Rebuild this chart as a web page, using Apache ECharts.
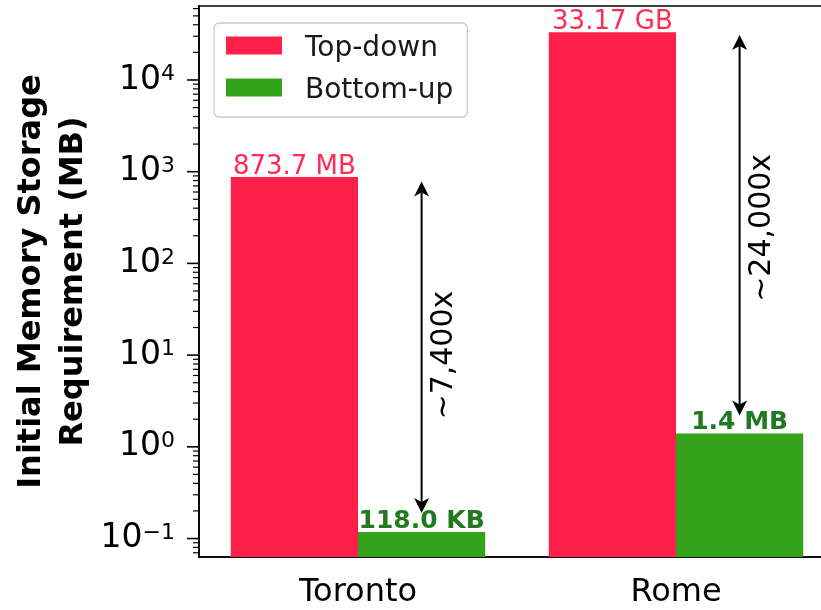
<!DOCTYPE html>
<html>
<head>
<meta charset="utf-8">
<script src="https://cdn.jsdelivr.net/npm/echarts@6/dist/echarts.min.js"></script>
<style>
  html, body { margin: 0; padding: 0; background: #ffffff; }
  #chart { width: 821px; height: 610px; }
</style>
</head>
<body>
<div id="chart"></div>
<script>
// Cities and memory needed at start-up, in MB
const cities = ['Toronto', 'Rome'];
const topDownMB = [873.7, 33170];
const bottomUpMB = [0.118, 1.4];
const topDownLabels = ['873.7 MB', '33.17 GB'];
const bottomUpLabels = ['118.0 KB', '1.4 MB'];

// Ratio arrows between the two approaches
const ratioText = ['~7,400x', '~24,000x'];
const arrowTopMB = [781, 31000];
const arrowBottomMB = [0.19, 2.2];
const ratioTextAtMB = [10, 244];

// Log axis range, decade ticks and their exponent labels
const yMin = 0.0629;
const yMax = 64050;
const majorTicks = [0.1, 1, 10, 100, 1000, 10000];
const majorExponents = ['\u22121', '0', '1', '2', '3', '4'];
const minorTicks = [];
for (let k = -2; k <= 4; k++) {
  for (let m = 2; m <= 9; m++) {
    const v = m * Math.pow(10, k);
    if (v > yMin && v < yMax) minorTicks.push(v);
  }
}

const FONT = '"DejaVu Sans", "Noto Sans", sans-serif';
const RED = '#FF1F48';
const GREEN = '#35A21B';

const chart = echarts.init(document.getElementById('chart'), null, { renderer: 'canvas' });

// [category, value, tick length, label index]
const tickData = majorTicks.map((v, i) => [0, v, 12, i]).concat(minorTicks.map(v => [0, v, 6, -1]));
const arrowData = cities.map((c, i) => [i, arrowTopMB[i], arrowBottomMB[i], ratioTextAtMB[i]]);

chart.setOption({
  animation: false,
  textStyle: { fontFamily: FONT },
  grid: {
    left: 199, top: 6, width: 636, height: 551,
    outerBoundsMode: 'none',
    containLabel: false,
    show: true, borderColor: '#000', borderWidth: 1.6, backgroundColor: 'transparent'
  },
  legend: {
    data: ['Top-down', 'Bottom-up'],
    orient: 'vertical',
    left: 214, top: 23,
    itemWidth: 56, itemHeight: 18, itemGap: 14,
    icon: 'rect',
    padding: [12, 14, 12, 12],
    backgroundColor: 'rgba(255,255,255,0.8)',
    borderColor: '#cccccc', borderWidth: 1.3, borderRadius: 5,
    selectedMode: false,
    formatter: '{t|{name}}',
    textStyle: {
      fontSize: 28, color: '#1a1a1a', fontFamily: FONT,
      rich: { t: { fontSize: 28, color: '#1a1a1a', fontFamily: FONT, padding: [7, 0, 0, 18] } }
    }
  },
  xAxis: {
    type: 'category',
    data: cities,
    axisLine: { lineStyle: { color: '#000', width: 1.6 } },
    axisTick: { alignWithLabel: true, length: 12, lineStyle: { color: '#000', width: 1.5 } },
    axisLabel: { fontSize: 32, color: '#000', margin: 20, fontFamily: FONT },
    splitLine: { show: false }
  },
  yAxis: {
    type: 'log',
    logBase: 10,
    min: yMin,
    max: yMax,
    startValue: yMin,
    name: 'Initial Memory Storage\nRequirement (MB)',
    nameLocation: 'middle',
    nameGap: 104,
    nameTextStyle: { fontSize: 32, fontWeight: 'bold', lineHeight: 42, color: '#000', fontFamily: FONT },
    axisLine: { show: true, lineStyle: { color: '#000', width: 1.6 } },
    axisTick: { show: false },
    axisLabel: { show: false },
    splitLine: { show: false }
  },
  series: [
    {
      name: 'Top-down',
      type: 'bar',
      data: topDownMB,
      barWidth: '40%',
      barGap: '0%',
      itemStyle: { color: RED },
      label: {
        show: true, position: 'top', distance: -3,
        fontSize: 26, color: '#FF2D55', fontFamily: FONT,
        formatter: p => topDownLabels[p.dataIndex]
      }
    },
    {
      name: 'Bottom-up',
      type: 'bar',
      data: bottomUpMB,
      barWidth: '40%',
      barGap: '0%',
      itemStyle: { color: GREEN },
      label: {
        show: true, position: 'top', distance: -2,
        fontSize: 25, fontWeight: 'bold', color: '#217A21', fontFamily: FONT,
        formatter: p => bottomUpLabels[p.dataIndex]
      }
    },
    {
      // y-axis decade and minor ticks on the log scale, with 10^n labels
      type: 'custom',
      silent: true,
      clip: false,
      data: tickData,
      encode: { x: 0, y: 1 },
      renderItem: function (params, api) {
        const cs = params.coordSys;
        const y = api.coord([0, api.value(1)])[1];
        const len = api.value(2);
        const li = api.value(3);
        const children = [{
          type: 'line',
          shape: { x1: cs.x - len, y1: y, x2: cs.x, y2: y },
          style: { stroke: '#000', lineWidth: len > 8 ? 1.6 : 1.2 }
        }];
        if (li >= 0) {
          children.push({
            type: 'text',
            x: cs.x - 24, y: y,
            style: {
              text: '10{sup|' + majorExponents[li] + '}',
              fontSize: 33, fontFamily: FONT, fill: '#000',
              align: 'right', verticalAlign: 'middle',
              rich: { sup: { fontSize: 22, verticalAlign: 'top', lineHeight: 22, fontFamily: FONT, fill: '#000' } }
            }
          });
        }
        return { type: 'group', children: children };
      }
    },
    {
      // double-headed ratio arrows with rotated text
      type: 'custom',
      silent: true,
      clip: false,
      data: arrowData,
      encode: { x: 0, y: 1 },
      renderItem: function (params, api) {
        const cs = params.coordSys;
        const band = cs.width / cities.length;
        const cat = api.value(0);
        const pTop = api.coord([cat, api.value(1)]);
        const pBot = api.coord([cat, api.value(2)]);
        const pTxt = api.coord([cat, api.value(3)]);
        const x = pTop[0] + 0.2 * band;
        const y1 = pTop[1], y2 = pBot[1];
        const hl = 15, hw = 7.5, notch = 4;
        return {
          type: 'group',
          children: [
            { type: 'line', shape: { x1: x, y1: y1 + hl - notch, x2: x, y2: y2 - hl + notch },
              style: { stroke: '#000', lineWidth: 2 } },
            { type: 'polygon', shape: { points: [[x, y1], [x - hw, y1 + hl], [x, y1 + hl - notch], [x + hw, y1 + hl]] },
              style: { fill: '#000' } },
            { type: 'polygon', shape: { points: [[x, y2], [x - hw, y2 - hl], [x, y2 - hl + notch], [x + hw, y2 - hl]] },
              style: { fill: '#000' } },
            { type: 'text', x: x + 0.07 * band, y: pTxt[1], rotation: Math.PI / 2,
              style: { text: ratioText[params.dataIndex], fontSize: 30, fontFamily: FONT,
                       fill: '#000', align: 'center', verticalAlign: 'middle' } }
          ]
        };
      }
    }
  ]
});
</script>
</body>
</html>
